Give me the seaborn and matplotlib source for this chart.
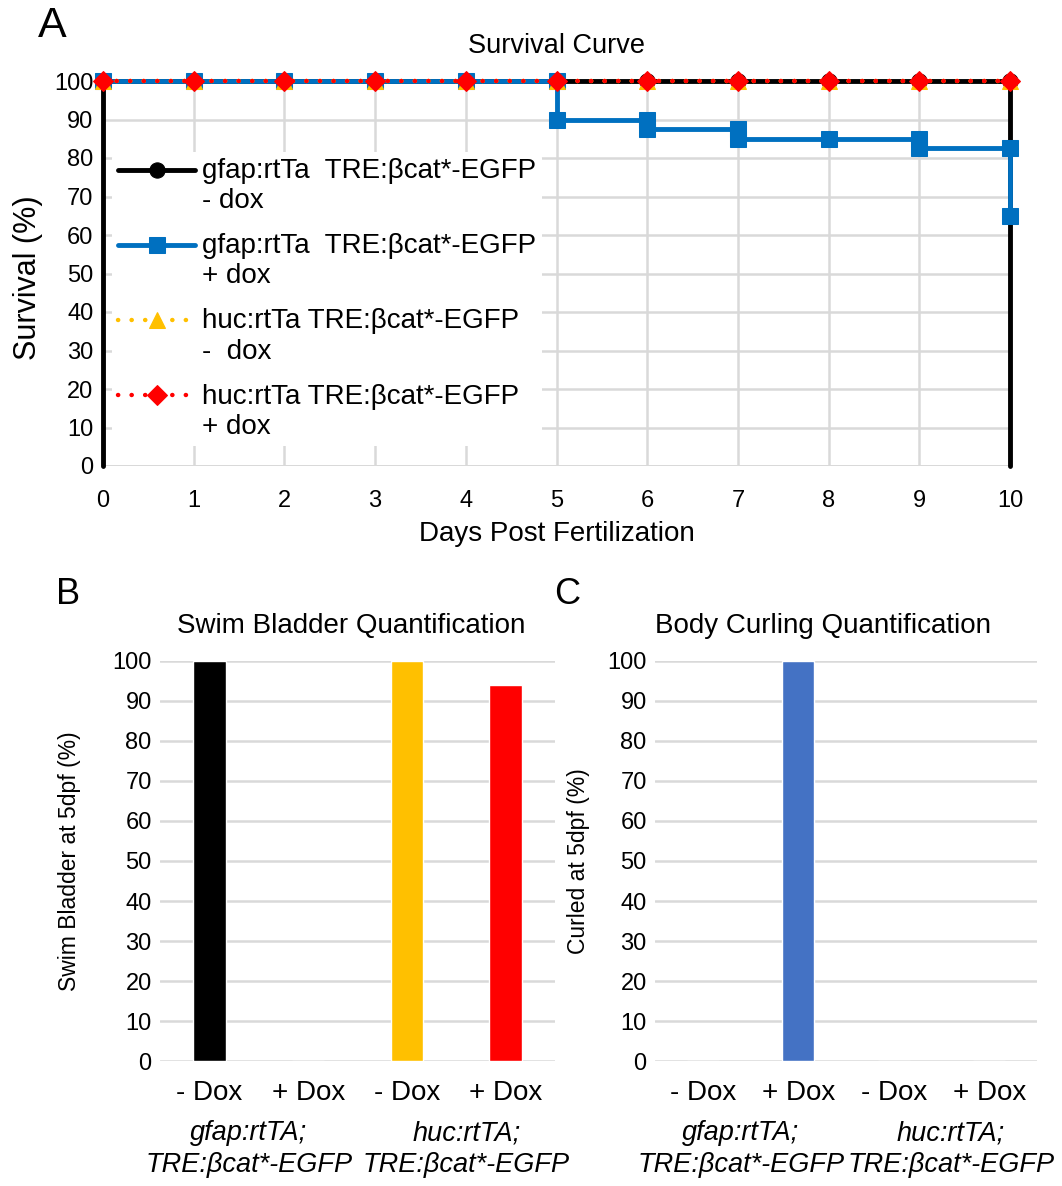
import matplotlib
matplotlib.use('Agg')
import matplotlib.pyplot as plt
import seaborn as sns
from matplotlib.lines import Line2D
from matplotlib.legend_handler import HandlerLine2D

sns.set_theme(style='whitegrid')
plt.rcParams['font.family'] = ['Liberation Sans', 'DejaVu Sans']
plt.rcParams['text.color'] = 'black'
plt.rcParams['axes.labelcolor'] = 'black'

# ---- data: survival curve (step points) ----
days = [0, 1, 2, 3, 4, 5, 6, 7, 8, 9, 10]
gfap_minus_x = [0] + days + [10]
gfap_minus_y = [0] + [100] * 11 + [0]
gfap_plus_x = [0, 1, 2, 3, 4, 5, 5, 6, 6, 7, 7, 8, 9, 9, 10, 10]
gfap_plus_y = [100, 100, 100, 100, 100, 100, 90, 90, 87.5, 87.5, 85, 85, 85, 82.5, 82.5, 65]
huc_minus_y = [100] * 11
huc_plus_y = [100] * 11

labels_A = ['gfap:rtTa  TRE:\u03b2cat*-EGFP\n- dox',
            'gfap:rtTa  TRE:\u03b2cat*-EGFP\n+ dox',
            'huc:rtTa TRE:\u03b2cat*-EGFP\n-  dox',
            'huc:rtTa TRE:\u03b2cat*-EGFP\n+ dox']

# ---- data: bar panels ----
conds = ['- Dox', '+ Dox', '- Dox', '+ Dox']
bar_ids = ['gfap -', 'gfap +', 'huc -', 'huc +']
swim_bladder = [100, 0, 100, 94]
curled = [0, 100, 0, 0]
swim_colors = ['#000000', '#000000', '#FFC000', '#FF0000']
curl_colors = ['#4472C4', '#4472C4', '#4472C4', '#4472C4']
groups = ['gfap:rtTA;\nTRE:\u03b2cat*-EGFP', 'huc:rtTA;\nTRE:\u03b2cat*-EGFP']

W, H = 1062, 1186
fig = plt.figure(figsize=(W / 100, H / 100), dpi=100)
grid_col = '#d9d9d9'
dots = (0, (0.05, 3.0))


# legend handle sits next to the first text line, like in the original
class FirstLineHandler(HandlerLine2D):
    def create_artists(self, *args, **kwargs):
        arts = super().create_artists(*args, **kwargs)
        for a in arts:
            a.set_ydata([y + 12 for y in a.get_ydata()])
            a.set_dash_capstyle('round')
        return arts


# ================= Panel A =================
axA = fig.add_axes([103 / W, 1 - 466 / H, 907 / W, 385 / H])
sns.lineplot(x=gfap_minus_x, y=gfap_minus_y, ax=axA, estimator=None, sort=False,
             color='black', lw=3.5, marker='o', markersize=11, mec='black',
             markevery=list(range(1, 12)), label=labels_A[0], clip_on=False)
sns.lineplot(x=gfap_plus_x, y=gfap_plus_y, ax=axA, estimator=None, sort=False,
             color='#0070C0', lw=3.5, marker='s', markersize=11, mec='#0070C0',
             label=labels_A[1], clip_on=False)
sns.lineplot(x=days, y=huc_minus_y, ax=axA, estimator=None, sort=False,
             color='#FFC000', lw=3.2, ls=dots, marker='^', markersize=11,
             mec='#FFC000', label=labels_A[2], clip_on=False)
sns.lineplot(x=days, y=huc_plus_y, ax=axA, estimator=None, sort=False,
             color='#FF0000', lw=3.2, ls=dots, marker='D', markersize=10,
             mec='#FF0000', label=labels_A[3], clip_on=False)
for ln in axA.lines:
    ln.set_dash_capstyle('round')

axA.set_xlim(0, 10)
axA.set_ylim(0, 100)
axA.set_xticks(days)
axA.set_yticks(range(0, 101, 10))
axA.grid(True, color=grid_col, lw=1.8)
for s in axA.spines.values():
    s.set_visible(False)
axA.axhline(0, color=grid_col, lw=2, zorder=0)
axA.tick_params(axis='both', length=0, labelsize=17, colors='black')
axA.tick_params(axis='x', pad=17)
axA.tick_params(axis='y', pad=7)
axA.set_xlabel('Days Post Fertilization', fontsize=20, labelpad=7)
axA.set_ylabel('Survival (%)', fontsize=22)
axA.yaxis.set_label_coords(-0.066, 0.49)
axA.set_title('Survival Curve', fontsize=19.5, pad=20)

handles, _ = axA.get_legend_handles_labels()
leg = axA.legend(handles, labels_A, loc='upper left', bbox_to_anchor=(0.01, 0.815),
                 fontsize=20, handlelength=2.8, handletextpad=0.25, labelspacing=0.68,
                 frameon=True, facecolor='white', edgecolor='none', framealpha=1,
                 borderpad=0.2, borderaxespad=0,
                 handler_map={Line2D: FirstLineHandler()})
for t in leg.get_texts():
    t.set_linespacing(1.22)
fig.text(52 / W, 1 - 26 / H, 'A', fontsize=31, ha='center', va='center')


def bar_panel(ax, vals, colors, title, ylabel, letter, lx, lab_x, title_x):
    sns.barplot(x=bar_ids, y=vals, hue=bar_ids, palette=colors, ax=ax,
                width=0.33, legend=False, saturation=1)
    ax.set_ylim(0, 100)
    ax.set_xlim(-0.5, 3.5)
    ax.set_yticks(range(0, 101, 10))
    ax.set_xticks(range(4))
    ax.set_xticklabels(conds)
    ax.grid(True, axis='y', color=grid_col, lw=1.8)
    ax.grid(False, axis='x')
    ax.set_axisbelow(True)
    for s in ax.spines.values():
        s.set_visible(False)
    ax.tick_params(axis='both', length=0, labelsize=17, colors='black')
    ax.tick_params(axis='x', labelsize=20, pad=14)
    ax.tick_params(axis='y', pad=6)
    ax.set_title(title, fontsize=20, pad=20, x=title_x)
    ax.set_ylabel(ylabel, fontsize=16.5)
    ax.yaxis.set_label_coords(lab_x, 0.5)
    tr = ax.get_xaxis_transform()
    for gx, g in zip([0.4, 2.6], groups):
        ax.text(gx, -0.148, g, transform=tr, ha='center', va='top',
                fontsize=19.5, style='italic', linespacing=1.3)
    fig.text(lx / W, 1 - 594 / H, letter, fontsize=26, ha='center', va='center')


axB = fig.add_axes([160 / W, 1 - 1061 / H, 395 / W, 400 / H])
bar_panel(axB, swim_bladder, swim_colors, 'Swim Bladder Quantification',
          'Swim Bladder at 5dpf (%)', 'B', 68, -0.2, 0.485)

axC = fig.add_axes([655 / W, 1 - 1061 / H, 382 / W, 400 / H])
bar_panel(axC, curled, curl_colors, 'Body Curling Quantification',
          'Curled at 5dpf (%)', 'C', 567, -0.17, 0.44)

fig.savefig('out.png', dpi=100)
